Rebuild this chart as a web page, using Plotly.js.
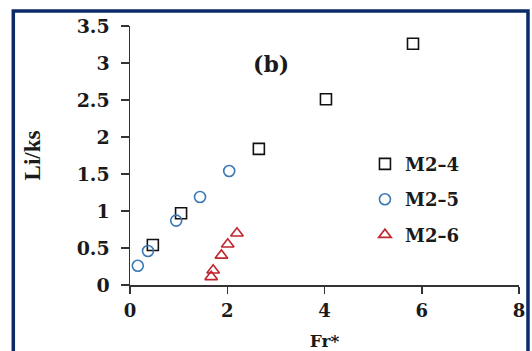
<!DOCTYPE html>
<html>
<head>
<meta charset="utf-8">
<script src="https://cdn.plot.ly/plotly-3.0.1.min.js"></script>
<style>html,body{margin:0;padding:0;background:#fff;}</style>
</head>
<body>
<div id="chart" style="width:532px;height:351px;"></div>
<script>
// Data
const seriesNames = ["M2–4", "M2–5", "M2–6"];
const m24_x = [0.47, 1.05, 2.65, 4.03, 5.82];
const m24_y = [0.54, 0.97, 1.84, 2.51, 3.26];
const m25_x = [0.16, 0.37, 0.95, 1.44, 2.04];
const m25_y = [0.26, 0.46, 0.87, 1.19, 1.54];
const m26_x = [1.67, 1.71, 1.88, 2.01, 2.20];
const m26_y = [0.11, 0.20, 0.40, 0.55, 0.70];
const xTicks = [0, 2, 4, 6, 8];
const yTicks = [0, 0.5, 1, 1.5, 2, 2.5, 3, 3.5];

const wide = "DejaVu Serif, Liberation Serif, serif";
const serif = "Liberation Serif, Times New Roman, serif";
const ink = "#1a1a1a";

const traces = [
  {x: m24_x, y: m24_y, name: seriesNames[0], legendgroup: "a", type: "scatter", mode: "markers",
   marker: {symbol: "square-open", size: 11, color: "#111111", line: {width: 1.6}}},
  {x: m25_x, y: m25_y, name: seriesNames[1], legendgroup: "b", type: "scatter", mode: "markers",
   marker: {symbol: "circle-open", size: 11, color: "#3a78b5", line: {width: 1.6}}},
  {x: m26_x, y: m26_y, name: seriesNames[2], legendgroup: "c", type: "scatter", mode: "markers",
   marker: {symbol: "triangle-up-open", size: 11, color: "#c0262d", line: {width: 1.6}}}
];

const layout = {
  width: 532, height: 351,
  margin: {l: 130, r: 13, t: 26, b: 66},
  paper_bgcolor: "#ffffff", plot_bgcolor: "#ffffff",
  showlegend: true,
  font: {family: wide, color: ink},
  xaxis: {
    range: [0, 8], tickvals: xTicks, showgrid: false, zeroline: false,
    showline: true, linecolor: "#333", linewidth: 1.5,
    ticks: "outside", ticklen: 7, tickwidth: 1.5, tickcolor: "#333",
    ticklabelstandoff: 2,
    tickfont: {family: wide, size: 18, color: ink, weight: "bold"},
    title: {text: "<b>Fr*</b>", font: {family: wide, size: 17, color: ink}, standoff: 17}
  },
  yaxis: {
    range: [0, 3.5], tickvals: yTicks, showgrid: false, zeroline: false,
    showline: true, linecolor: "#333", linewidth: 1.5,
    ticks: "outside", ticklen: 8, tickwidth: 1.5, tickcolor: "#333",
    ticklabelstandoff: 7,
    tickfont: {family: wide, size: 19, color: ink, weight: "bold"},
    title: {text: "Li/ks", font: {family: serif, size: 23, color: ink, weight: "bold"}, standoff: 29}
  },
  xaxis2: {
    overlaying: "x", side: "top", matches: "x", range: [0, 8], tickvals: xTicks,
    showgrid: false, zeroline: false, showline: true, linecolor: "#333", linewidth: 1.5,
    ticks: "inside", ticklen: 7, tickwidth: 1.5, tickcolor: "#333", showticklabels: false
  },
  yaxis2: {
    overlaying: "y", side: "right", matches: "y", range: [0, 3.5], tickvals: yTicks,
    showgrid: false, zeroline: false, showline: true, linecolor: "#333", linewidth: 1.5,
    ticks: "inside", ticklen: 8, tickwidth: 1.5, tickcolor: "#333", showticklabels: false
  },
  legend: {
    x: 0.604, y: 0.538, xanchor: "left", yanchor: "top",
    bgcolor: "rgba(0,0,0,0)", borderwidth: 0,
    traceorder: "grouped", tracegroupgap: 9,
    font: {family: wide, size: 18, color: ink, weight: "bold"}
  },
  annotations: [
    {text: "<b>(b)</b>", xref: "paper", yref: "paper", x: 0.362, y: 0.853,
     xanchor: "center", yanchor: "middle",
     showarrow: false, font: {family: wide, size: 22, color: ink}}
  ],
  shapes: [
    {type: "rect", xref: "paper", yref: "paper", x0: -0.3, x1: 1.0231, y0: -0.4, y1: 1.058,
     line: {color: "#0b2a66", width: 3.5}, fillcolor: "rgba(0,0,0,0)", layer: "below"}
  ]
};

Plotly.newPlot("chart", traces, layout, {displayModeBar: false, staticPlot: true});
</script>
</body>
</html>
